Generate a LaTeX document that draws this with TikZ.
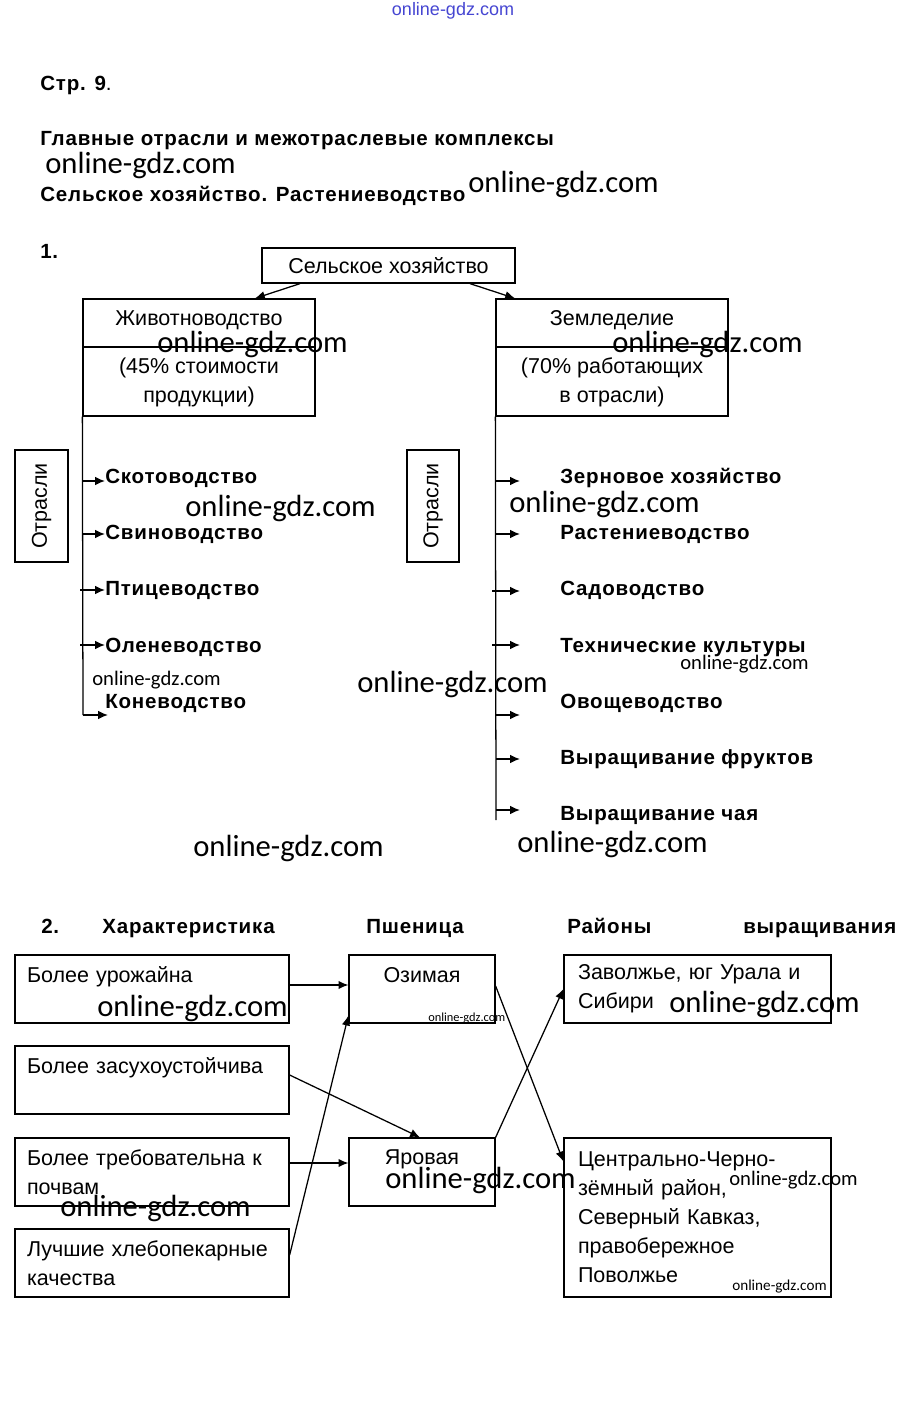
\documentclass[tikz,border=0pt]{standalone}
\usepackage{fontspec}
\setmainfont{Liberation Sans}
\newfontfamily\wmfont{Carlito}
\newfontfamily\headfont{Liberation Sans}[LetterSpace=4]
\usetikzlibrary{arrows.meta}
\definecolor{wmblue}{RGB}{70,70,210}

\tikzset{
  txt/.style={font=\fontsize{15.3pt}{20.6pt}\selectfont, inner sep=0pt},
  head/.style={font=\headfont\bfseries\fontsize{14.6pt}{20.6pt}\selectfont, inner sep=0pt, anchor=west, text height=10.4pt, text depth=0pt},
  box/.style={draw, line width=0.9pt, txt},
  lbox/.style={box, align=left, text width=6.25cm, inner xsep=0.3cm, minimum height=1.7cm},
  rbox/.style={box, align=left, text width=5.975cm, inner xsep=0.35cm},
  wbox/.style={box, align=center, text width=3.65cm, minimum height=1.7cm},
  wm/.style={font=\wmfont\fontsize{21.8pt}{24pt}\selectfont, inner sep=0pt, anchor=west},
  wmsmall/.style={font=\wmfont\fontsize{14.7pt}{16pt}\selectfont, inner sep=0pt, anchor=west},
  link/.style={-{Latex[length=7pt, width=6pt]}, line width=0.9pt},
}

\begin{document}
\begin{tikzpicture}
\fill [color=white] (0, 0) rectangle (22.65, -35.2);

\node (wmtop) at (11.325, -0.275) [font=\fontsize{12.8pt}{14pt}\selectfont, text=wmblue, inner sep=0pt] {online-gdz.com};
\node (page) at (1.0, -2.075) [head] {Стр. 9\textmd{.}};
\node (title) at (1.0, -3.45) [head] {Главные отрасли и межотраслевые комплексы};
\node (wm1) at (1.125, -4.125) [wm] {online-gdz.com};
\node (subtitle) at (1.0, -4.85) [head] {Сельское хозяйство. Растениеводство};
\node (wm2) at (11.7, -4.6) [wm] {online-gdz.com};

% task 1
\node (num1) at (1.0, -6.275) [head] {1.};
\node (agri) at (9.7125, -6.6375) [box, minimum width=6.325cm, minimum height=0.875cm] {Сельское хозяйство};
\node (animal) at (4.975, -8.9375) [box, minimum width=5.8cm, minimum height=2.925cm] {};
\node (crop) at (15.3, -8.9375) [box, minimum width=5.8cm, minimum height=2.925cm] {};
\draw [line width=0.9pt] (2.075, -8.675) -- (7.875, -8.675);
\draw [line width=0.9pt] (12.4, -8.675) -- (18.2, -8.675);
\node (animaltop) at (4.975, -8.0) [txt] {Животноводство};
\node (animalbot) at (4.975, -9.5625) [txt, align=center] {(45\% стоимости\\продукции)};
\node (croptop) at (15.3, -8.0) [txt] {Земледелие};
\node (cropbot) at (15.3, -9.5625) [txt, align=center] {(70\% работающих\\в отрасли)};
\draw [link] ([xshift=-2.2125cm]agri.south) -- ([xshift=1.4cm]animal.north);
\draw [link] ([xshift=2.0375cm]agri.south) -- ([xshift=-2.425cm]crop.north);

\node (otr1) at (1.0375, -12.65) [box, rotate=90, minimum width=2.8cm, minimum height=1.325cm] {Отрасли};
\node (otr2) at (10.825, -12.65) [box, rotate=90, minimum width=2.8cm, minimum height=1.3cm] {Отрасли};

\coordinate (lend) at (2.075, -17.875);
\coordinate (rend) at (12.4, -20.5);
\draw [line width=0.9pt] (animal.south west) -- (lend);
\draw [line width=0.9pt] (crop.south west) -- (rend);

\node (sko) at (2.625, -11.9) [head] {Скотоводство};
\node (svi) at (2.625, -13.3) [head] {Свиноводство};
\node (pti) at (2.625, -14.7) [head] {Птицеводство};
\node (ole) at (2.625, -16.125) [head] {Оленеводство};
\node (kon) at (2.625, -17.525) [head] {Коневодство};
\coordinate (a1) at (2.075, -12.025);
\coordinate (a2) at (2.075, -13.35);
\coordinate (a3) at (2.0, -14.75);
\coordinate (a4) at (2.0, -16.125);
\draw [link] (a1) -- (a1 -| sko.west);
\draw [link] (a2) -- (a2 -| svi.west);
\draw [link] (a3) -- (a3 -| pti.west);
\draw [link] (a4) -- (a4 -| ole.west);
\draw [link, shorten >=-0.075cm] (lend) -- (lend -| kon.west);

\node (zer) at (14.0, -11.9) [head] {Зерновое хозяйство};
\node (ras) at (14.0, -13.3) [head] {Растениеводство};
\node (sad) at (14.0, -14.7) [head] {Садоводство};
\node (teh) at (14.0, -16.125) [head] {Технические культуры};
\node (ovo) at (14.0, -17.525) [head] {Овощеводство};
\node (fru) at (14.0, -18.925) [head] {Выращивание фруктов};
\node (cha) at (14.0, -20.325) [head] {Выращивание чая};
\coordinate (b1) at (12.4, -12.025);
\coordinate (b2) at (12.4, -13.35);
\coordinate (b3) at (12.3, -14.775);
\coordinate (b4) at (12.3, -16.125);
\coordinate (b5) at (12.4, -17.875);
\coordinate (b6) at (12.4, -18.975);
\coordinate (b7) at (12.4, -20.25);
\draw [link, shorten >=1cm] (b1) -- (b1 -| zer.west);
\draw [link, shorten >=1cm] (b2) -- (b2 -| ras.west);
\draw [link, shorten >=1cm] (b3) -- (b3 -| sad.west);
\draw [link, shorten >=1cm] (b4) -- (b4 -| teh.west);
\draw [link, shorten >=1cm] (b5) -- (b5 -| ovo.west);
\draw [link, shorten >=1cm] (b6) -- (b6 -| fru.west);
\draw [link, shorten >=1cm] (b7) -- (b7 -| cha.west);

\node (wm3) at (3.925, -8.6) [wm] {online-gdz.com};
\node (wm4) at (15.3, -8.6) [wm] {online-gdz.com};
\node (wm5) at (4.625, -12.7) [wm] {online-gdz.com};
\node (wm6) at (12.725, -12.6) [wm] {online-gdz.com};
\node (wm7) at (2.3, -17.0) [wmsmall] {online-gdz.com};
\node (wm8) at (17.0, -16.6) [wmsmall] {online-gdz.com};
\node (wm9) at (8.925, -17.1) [wm] {online-gdz.com};
\node (wm10) at (4.825, -21.2) [wm] {online-gdz.com};
\node (wm11) at (12.925, -21.1) [wm] {online-gdz.com};

% task 2
\node (num2) at (1.025, -23.15) [head] {2.};
\node (hchar) at (2.55, -23.15) [head] {Характеристика};
\node (hwheat) at (9.15, -23.15) [head] {Пшеница};
\node (hreg) at (14.175, -23.15) [head] {Районы};
\node (hgrow) at (18.575, -23.15) [head] {выращивания};

\node (lb1) at (3.8, -24.725) [lbox] {Более урожайна\\~};
\node (lb2) at (3.8, -27.0) [lbox] {Более засухоустойчива\\~};
\node (lb3) at (3.8, -29.3) [lbox] {Более требовательна к\\почвам};
\node (lb4) at (3.8, -31.575) [lbox] {Лучшие хлебопекарные\\качества};
\node (ozim) at (10.55, -24.725) [wbox] {Озимая\\~};
\node (jar) at (10.55, -29.3) [wbox] {Яровая\\~};
\node (zaw) at (17.4375, -24.725) [rbox, minimum height=1.7cm] {Заволжье, юг Урала и\\Сибири};
\node (cent) at (17.4375, -30.4375) [rbox, minimum height=3.975cm] {Центрально-Черно-\\зёмный район,\\Северный Кавказ,\\правобережное\\Поволжье};

\draw [link] ([yshift=0.1cm]lb1.east) -- ([yshift=0.1cm]ozim.west);
\draw [link] ([yshift=0.125cm]lb2.east) -- ([xshift=-0.05cm]jar.north);
\draw [link] ([yshift=0.225cm]lb3.east) -- ([yshift=0.225cm]jar.west);
\draw [link] ([yshift=0.2cm]lb4.east) -- ([yshift=0.2cm]ozim.south west);
\draw [link] ([yshift=0.075cm]ozim.east) -- ([yshift=-0.6cm]cent.north west);
\draw [link] (jar.north east) -- (zaw.west);

\node (wm12) at (2.425, -25.2) [wm] {online-gdz.com};
\node (wm13) at (10.7, -25.45) [font=\wmfont\fontsize{8.8pt}{10pt}\selectfont, inner sep=0pt, anchor=west] {online-gdz.com};
\node (wm14) at (16.725, -25.1) [wm] {online-gdz.com};
\node (wm15) at (9.625, -29.5) [wm] {online-gdz.com};
\node (wm16) at (18.225, -29.5) [wmsmall] {online-gdz.com};
\node (wm17) at (1.5, -30.2) [wm] {online-gdz.com};
\node (wm18) at (18.3, -32.175) [font=\wmfont\fontsize{10.8pt}{12pt}\selectfont, inner sep=0pt, anchor=west] {online-gdz.com};
\end{tikzpicture}
\end{document}
